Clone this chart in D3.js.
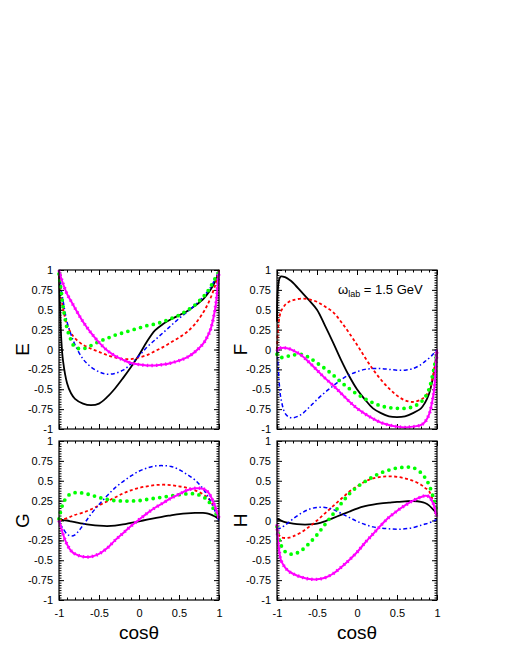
<!DOCTYPE html>
<html>
<head>
<meta charset="utf-8">
<script src="https://cdn.jsdelivr.net/npm/d3@7"></script>
<style>
  body { margin: 0; background: #fff; }
  text { font-family: "Liberation Sans", Arial, Helvetica, sans-serif; }
</style>
</head>
<body>
<script>
// shared cos(theta) grid for every curve
const cosTheta = [-1, -0.99, -0.97, -0.95, -0.9, -0.85, -0.8, -0.7, -0.6, -0.5, -0.4, -0.3, -0.2, -0.1,
                  0, 0.1, 0.2, 0.3, 0.4, 0.5, 0.6, 0.7, 0.8, 0.85, 0.9, 0.95, 0.97, 0.99, 1];

const xTickLabels = [-1, -0.5, 0, 0.5, 1];
const yTickLabels = [1, 0.75, 0.5, 0.25, 0, -0.25, -0.5, -0.75, -1];

// E
const E_black   = [1, 0.62, 0.10, -0.14, -0.42, -0.55, -0.62, -0.68, -0.70, -0.68, -0.60, -0.49, -0.36, -0.22, -0.07, 0.10, 0.24, 0.32, 0.38, 0.43, 0.48, 0.55, 0.63, 0.69, 0.76, 0.85, 0.90, 0.96, 1];
const E_red     = [1, 0.85, 0.66, 0.52, 0.31, 0.21, 0.14, 0.06, 0.01, -0.03, -0.07, -0.10, -0.12, -0.12, -0.10, -0.07, -0.02, 0.03, 0.09, 0.15, 0.22, 0.32, 0.46, 0.55, 0.66, 0.80, 0.87, 0.95, 1];
const E_blue    = [1, 0.90, 0.74, 0.62, 0.35, 0.19, 0.06, -0.12, -0.22, -0.28, -0.31, -0.30, -0.26, -0.18, -0.08, 0.03, 0.12, 0.21, 0.30, 0.39, 0.47, 0.56, 0.66, 0.72, 0.79, 0.88, 0.92, 0.97, 1];
const E_green   = [0.95, 0.86, 0.72, 0.55, 0.27, 0.12, 0.03, 0.01, 0.05, 0.10, 0.14, 0.18, 0.21, 0.24, 0.27, 0.30, 0.32, 0.35, 0.39, 0.43, 0.49, 0.56, 0.66, 0.72, 0.80, 0.89, 0.92, 0.96, 0.97];
const E_magenta = [1, 0.96, 0.89, 0.83, 0.70, 0.61, 0.52, 0.35, 0.21, 0.09, -0.01, -0.08, -0.13, -0.17, -0.19, -0.20, -0.20, -0.19, -0.17, -0.14, -0.10, -0.03, 0.07, 0.15, 0.27, 0.50, 0.65, 0.87, 0.98];

// F
const F_black   = [0.35, 0.75, 0.89, 0.92, 0.91, 0.88, 0.84, 0.73, 0.62, 0.50, 0.30, 0.09, -0.13, -0.33, -0.50, -0.63, -0.74, -0.80, -0.84, -0.85, -0.84, -0.80, -0.74, -0.67, -0.56, -0.35, -0.24, -0.10, -0.02];
const F_red     = [0.0, 0.22, 0.40, 0.48, 0.56, 0.60, 0.62, 0.64, 0.63, 0.60, 0.54, 0.47, 0.35, 0.21, 0.06, -0.10, -0.25, -0.38, -0.49, -0.58, -0.64, -0.66, -0.63, -0.59, -0.52, -0.33, -0.22, -0.08, 0.0];
const F_blue    = [-0.02, -0.15, -0.45, -0.62, -0.80, -0.85, -0.86, -0.82, -0.73, -0.63, -0.54, -0.46, -0.38, -0.32, -0.28, -0.25, -0.24, -0.24, -0.25, -0.26, -0.26, -0.24, -0.19, -0.15, -0.11, -0.06, -0.04, -0.01, 0.0];
const F_green   = [-0.06, -0.08, -0.10, -0.10, -0.10, -0.08, -0.07, -0.06, -0.10, -0.17, -0.24, -0.32, -0.41, -0.49, -0.56, -0.62, -0.67, -0.71, -0.73, -0.74, -0.74, -0.72, -0.66, -0.60, -0.50, -0.30, -0.20, -0.09, -0.03];
const F_magenta = [-0.02, 0.0, 0.02, 0.02, 0.02, 0.01, -0.01, -0.07, -0.16, -0.26, -0.36, -0.45, -0.55, -0.65, -0.74, -0.81, -0.87, -0.92, -0.95, -0.97, -0.98, -0.97, -0.95, -0.91, -0.82, -0.60, -0.45, -0.18, 0.0];

// G
const G_black   = [0.01, 0.01, 0.01, 0.005, 0.0, -0.01, -0.02, -0.04, -0.055, -0.065, -0.07, -0.065, -0.05, -0.03, -0.01, 0.01, 0.03, 0.05, 0.065, 0.08, 0.09, 0.095, 0.095, 0.09, 0.075, 0.05, 0.04, 0.025, 0.02];
const G_red     = [0.0, 0.003, 0.01, 0.015, 0.03, 0.05, 0.07, 0.10, 0.14, 0.19, 0.24, 0.29, 0.34, 0.38, 0.41, 0.43, 0.445, 0.45, 0.445, 0.43, 0.41, 0.38, 0.33, 0.29, 0.24, 0.14, 0.10, 0.04, 0.02];
const G_blue    = [0.0, -0.03, -0.07, -0.10, -0.17, -0.195, -0.18, -0.06, 0.08, 0.20, 0.31, 0.41, 0.49, 0.56, 0.62, 0.66, 0.685, 0.69, 0.68, 0.64, 0.58, 0.51, 0.40, 0.32, 0.23, 0.12, 0.07, 0.02, 0.0];
const G_green   = [0.02, 0.07, 0.15, 0.21, 0.30, 0.335, 0.35, 0.345, 0.32, 0.29, 0.265, 0.25, 0.245, 0.245, 0.25, 0.265, 0.28, 0.295, 0.31, 0.325, 0.335, 0.335, 0.30, 0.26, 0.20, 0.11, 0.07, 0.03, 0.01];
const G_magenta = [0.0, -0.04, -0.10, -0.17, -0.30, -0.38, -0.42, -0.455, -0.455, -0.42, -0.35, -0.25, -0.16, -0.07, 0.01, 0.09, 0.16, 0.22, 0.28, 0.33, 0.38, 0.405, 0.40, 0.37, 0.30, 0.18, 0.12, 0.06, 0.03];

// H
const H_black   = [0.02, 0.015, 0.01, 0.0, -0.02, -0.03, -0.04, -0.05, -0.05, -0.04, -0.01, 0.03, 0.07, 0.11, 0.15, 0.18, 0.20, 0.215, 0.225, 0.235, 0.24, 0.245, 0.235, 0.22, 0.19, 0.14, 0.12, 0.09, 0.08];
const H_red     = [-0.10, -0.15, -0.19, -0.21, -0.22, -0.215, -0.20, -0.15, -0.08, 0.0, 0.09, 0.18, 0.27, 0.36, 0.43, 0.49, 0.53, 0.55, 0.555, 0.55, 0.53, 0.50, 0.45, 0.41, 0.37, 0.25, 0.18, 0.09, 0.05];
const H_blue    = [-0.11, -0.105, -0.10, -0.09, -0.06, -0.02, 0.02, 0.09, 0.14, 0.165, 0.165, 0.14, 0.09, 0.04, -0.01, -0.05, -0.08, -0.095, -0.105, -0.11, -0.105, -0.09, -0.06, -0.045, -0.03, -0.01, 0.0, 0.01, 0.01];
const H_green   = [-0.08, -0.15, -0.25, -0.31, -0.39, -0.415, -0.425, -0.38, -0.29, -0.18, -0.05, 0.08, 0.21, 0.33, 0.42, 0.49, 0.55, 0.60, 0.635, 0.66, 0.67, 0.665, 0.60, 0.54, 0.45, 0.30, 0.22, 0.14, 0.10];
const H_magenta = [-0.05, -0.22, -0.40, -0.50, -0.59, -0.64, -0.67, -0.71, -0.735, -0.74, -0.72, -0.67, -0.59, -0.50, -0.40, -0.28, -0.17, -0.06, 0.04, 0.12, 0.19, 0.25, 0.295, 0.31, 0.30, 0.22, 0.16, 0.08, 0.05];

const svgWidth = 510, svgHeight = 660;
const plotW = 160, plotH = 159;

const panels = [
    { name: "E", left: 59,  top: 270, bottom: false, series: [E_black, E_red, E_blue, E_green, E_magenta] },
    { name: "F", left: 277, top: 270, bottom: false, series: [F_black, F_red, F_blue, F_green, F_magenta] },
    { name: "G", left: 59,  top: 441, bottom: true,  series: [G_black, G_red, G_blue, G_green, G_magenta] },
    { name: "H", left: 277, top: 441, bottom: true,  series: [H_black, H_red, H_blue, H_green, H_magenta] }
];

// black solid, red dashed, blue dash-dot, green dots, magenta line with points
const styles = [
    { color: "#000000", width: 1.8, dash: null },
    { color: "#ff0000", width: 1.8, dash: "3,2.5" },
    { color: "#0000ff", width: 1.5, dash: "4,2.5,1.5,2.5" },
    { color: "#00ff00", width: 3.8, dash: "0,6.6", cap: "round" },
    { color: "#ff00ff", width: 2.0, dash: null, beads: true }
];

const svg = d3.select("body")
    .append("svg")
    .attr("width", svgWidth)
    .attr("height", svgHeight);

const xMinor = d3.range(-10, 11).map(i => i / 10);
const yMinor = d3.range(-32, 33).map(i => i / 32);

panels.forEach(p => {
    const x = d3.scaleLinear().domain([-1, 1]).range([0, plotW]);
    const y = d3.scaleLinear().domain([-1, 1]).range([plotH, 0]);

    const g = svg.append("g").attr("transform", `translate(${p.left}, ${p.top})`);

    const noDomain = sel => sel.select(".domain").remove();

    // minor ticks on all four sides
    g.append("g").attr("transform", `translate(0, ${plotH})`)
        .call(d3.axisBottom(x).tickValues(xMinor).tickSize(-2.5).tickFormat("")).call(noDomain);
    g.append("g")
        .call(d3.axisTop(x).tickValues(xMinor).tickSize(-2.5).tickFormat("")).call(noDomain);
    g.append("g")
        .call(d3.axisLeft(y).tickValues(yMinor).tickSize(-2.5).tickFormat("")).call(noDomain);
    g.append("g").attr("transform", `translate(${plotW}, 0)`)
        .call(d3.axisRight(y).tickValues(yMinor).tickSize(-2.5).tickFormat("")).call(noDomain);

    // major ticks
    g.append("g").attr("class", "xaxis").attr("transform", `translate(0, ${plotH})`)
        .call(d3.axisBottom(x).tickValues(xTickLabels).tickSize(-5).tickPadding(9)
            .tickFormat(d => p.bottom ? String(d) : "")).call(noDomain);
    g.append("g")
        .call(d3.axisTop(x).tickValues(xTickLabels).tickSize(-5).tickFormat("")).call(noDomain);
    g.append("g").attr("class", "yaxis")
        .call(d3.axisLeft(y).tickValues(yTickLabels).tickSize(-5).tickPadding(6)
            .tickFormat(d => String(d))).call(noDomain);
    g.append("g").attr("transform", `translate(${plotW}, 0)`)
        .call(d3.axisRight(y).tickValues(yTickLabels).tickSize(-5).tickFormat("")).call(noDomain);

    g.selectAll(".tick line").attr("stroke", "#000").attr("stroke-width", 1);
    g.selectAll(".xaxis text, .yaxis text")
        .attr("font-size", 11)
        .attr("font-family", "Liberation Sans, Arial, sans-serif")
        .attr("fill", "#000");

    // curves
    const line = d3.line()
        .x((d, i) => x(cosTheta[i]))
        .y(d => y(d))
        .curve(d3.curveCatmullRom.alpha(0.5));

    p.series.forEach((vals, k) => {
        const s = styles[k];
        const path = g.append("path")
            .datum(vals)
            .attr("d", line)
            .attr("fill", "none")
            .attr("stroke", s.color)
            .attr("stroke-width", s.width);
        if (s.dash) path.attr("stroke-dasharray", s.dash);
        if (s.cap) path.attr("stroke-linecap", s.cap);
        if (s.beads) {
            g.append("path")
                .datum(vals)
                .attr("d", line)
                .attr("fill", "none")
                .attr("stroke", s.color)
                .attr("stroke-width", 3.4)
                .attr("stroke-dasharray", "1.4,3.2");
        }
    });

    // frame
    g.append("rect")
        .attr("width", plotW)
        .attr("height", plotH)
        .attr("fill", "none")
        .attr("stroke", "#000")
        .attr("stroke-width", 1.2);

    // y title
    svg.append("text")
        .attr("transform", `translate(${p.left - 37}, ${p.top + plotH / 2}) rotate(-90)`)
        .attr("text-anchor", "middle")
        .attr("dy", "0.36em")
        .attr("font-size", 19)
        .text(p.name);

    if (p.bottom) {
        svg.append("text")
            .attr("x", p.left + plotW / 2)
            .attr("y", 639)
            .attr("text-anchor", "middle")
            .attr("font-size", 19)
            .text("cosθ");
    }
});

// energy label in the F panel
const lab = svg.append("text")
    .attr("x", 338)
    .attr("y", 294)
    .attr("font-size", 13);
lab.append("tspan").text("ω");
lab.append("tspan").attr("font-size", 9).attr("dy", 3).text("lab");
lab.append("tspan").attr("dy", -3).text(" = 1.5 GeV");
</script>
</body>
</html>
